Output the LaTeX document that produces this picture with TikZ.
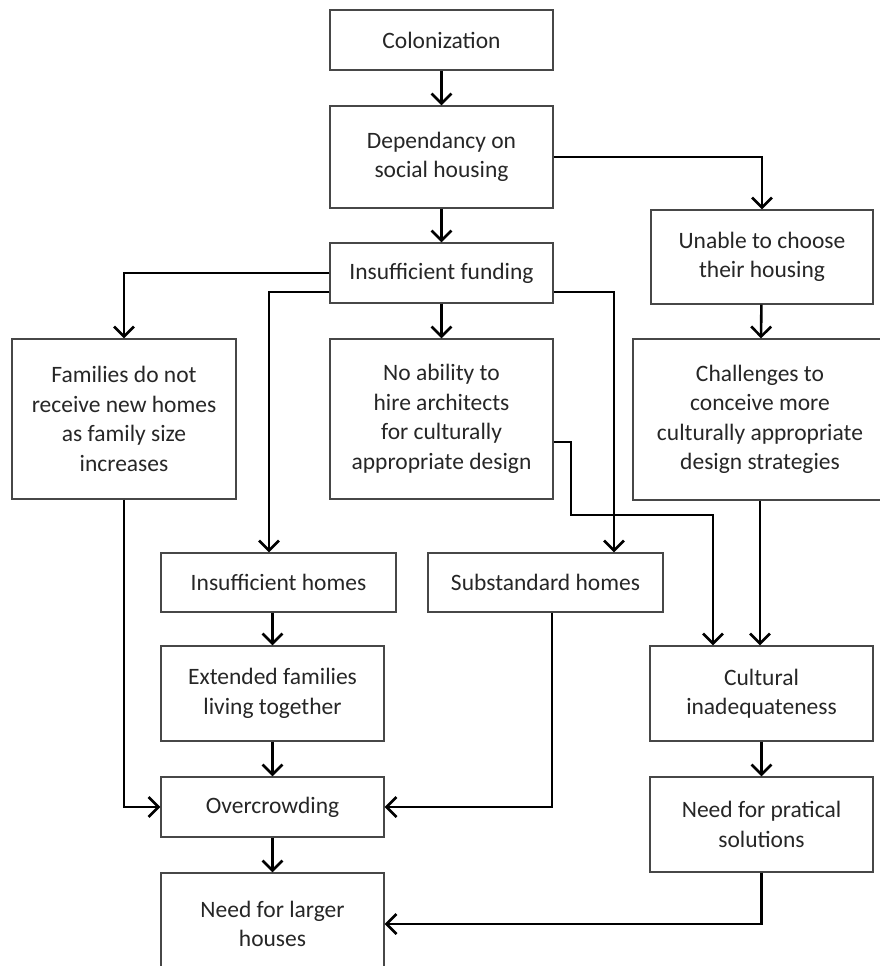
\documentclass[tikz,border=0pt]{standalone}
\usepackage{fontspec}
\setmainfont{Carlito}
\usetikzlibrary{arrows.meta}
\begin{document}
\begin{tikzpicture}[x=1pt, y=-1pt,
  box/.style={draw=black!72, line width=1.3pt, align=center, inner sep=0pt,
    text=black!85, font=\fontsize{23.5}{29.5}\selectfont},
  flow/.style={draw=black, line width=2.6pt, -{Straight Barb[length=10pt,width=20pt]}}]
\useasboundingbox (0,0) rectangle (880,966);

% boxes
\node[box, minimum width=223pt, minimum height=60pt]  (col)  at (441.5,40)   {Colonization};
\node[box, minimum width=223pt, minimum height=102pt] (dep)  at (441.5,157)  {Dependancy on\\social housing};
\node[box, minimum width=223pt, minimum height=60pt]  (fund) at (441.5,273)  {Insufficient funding};
\node[box, minimum width=222pt, minimum height=94pt]  (un)   at (762,257)    {Unable to choose\\their housing};
\node[box, minimum width=224pt, minimum height=160pt] (fam)  at (124,419)    {Families do not\\receive new homes\\as family size\\increases};
\node[box, minimum width=223pt, minimum height=160pt] (na)   at (441.5,419)  {No ability to\\hire architects\\for culturally\\appropriate design};
\node[box, minimum width=254pt, minimum height=161pt] (ch)   at (760,419.5)  {Challenges to\\conceive more\\culturally appropriate\\design strategies};
\node[box, minimum width=235pt, minimum height=59pt]  (ih)   at (278.5,582.5){Insufficient homes};
\node[box, minimum width=235pt, minimum height=59pt]  (sub)  at (545.5,582.5){Substandard homes};
\node[box, minimum width=223pt, minimum height=95pt]  (ext)  at (272.5,693.5){Extended families\\living together};
\node[box, minimum width=223pt, minimum height=95pt]  (cu)   at (761.5,693.5){Cultural\\inadequateness};
\node[box, minimum width=223pt, minimum height=60pt]  (oc)   at (272.5,807)  {Overcrowding};
\node[box, minimum width=223pt, minimum height=95pt]  (pr)   at (761.5,824.5){Need for pratical\\solutions};
\node[box, minimum width=223pt, minimum height=102pt] (lg)   at (272.5,924)  {Need for larger\\houses};

\coordinate (bend) at (571,515);

% connectors
\draw[flow] (col) -- (dep);
\draw[flow] (dep) -- (fund);
\draw[flow] (dep.east) -| (un.north);
\draw[flow] (un) -- (ch);
\draw[flow] (fund.west) -| (fam.north);
\draw[flow] ([yshift=-19pt]fund.west) -| ([xshift=-9.5pt]ih.north);
\draw[flow] (fund) -- (na);
\draw[flow] ([yshift=-19pt]fund.east) -| ([xshift=68.5pt]sub.north);
\draw[flow] ([yshift=-23pt]na.east) -| (bend) -| ([xshift=-48.5pt]cu.north);
\draw[flow] (ch.south) -- (ch.south |- cu.north);
\draw[flow] (ext.north |- ih.south) -- (ext.north);
\draw[flow] (ext) -- (oc);
\draw[flow] (fam.south) |- (oc.west);
\draw[flow] ([xshift=6.5pt]sub.south) |- (oc.east);
\draw[flow] (oc) -- (lg);
\draw[flow] (cu) -- (pr);
\draw[flow] (pr.south) |- (lg.east);
\end{tikzpicture}
\end{document}
